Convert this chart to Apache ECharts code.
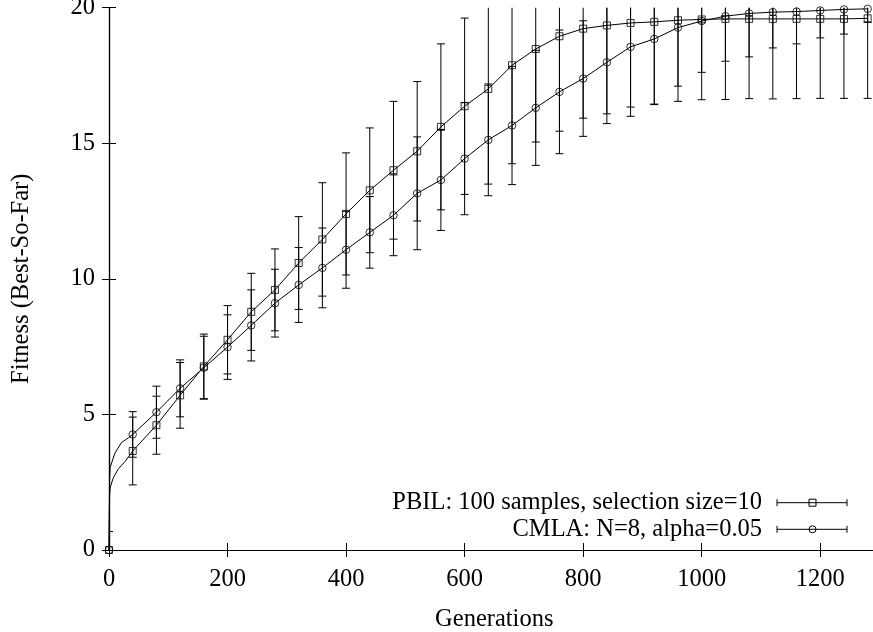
<!DOCTYPE html>
<html>
<head>
<meta charset="utf-8">
<script src="https://cdn.jsdelivr.net/npm/echarts@6/dist/echarts.min.js"></script>
<style>html,body{margin:0;padding:0;background:#fff}#c{width:873px;height:632px}</style>
</head>
<body>
<div id="c"></div>
<script>
// ---- data ----
const gens = [0,40,80,120,160,200,240,280,320,360,400,440,480,520,560,600,640,680,720,760,800,840,880,920,960,1000,1040,1080,1120,1160,1200,1240,1280];
const pbilMean = [0,3.65,4.6,5.7,6.77,7.75,8.78,9.59,10.58,11.45,12.39,13.26,14.0,14.7,15.6,16.36,17.0,17.87,18.47,18.94,19.22,19.34,19.43,19.47,19.53,19.56,19.58,19.58,19.58,19.58,19.58,19.58,19.6];
const pbilStd  = [0.68,1.25,1.07,1.21,1.19,1.26,1.42,1.51,1.71,2.09,2.25,2.3,2.54,2.57,3.06,3.25,3.51,3.63,3.43,3.5,3.3,3.26,3.1,3.05,2.99,2.96,2.97,2.94,2.95,2.94,2.93,2.93,2.95];
const cmlaMean = [0,4.26,5.08,5.96,6.72,7.48,8.28,9.1,9.77,10.4,11.07,11.71,12.34,13.15,13.64,14.43,15.12,15.65,16.3,16.89,17.38,17.98,18.55,18.84,19.26,19.5,19.68,19.78,19.83,19.85,19.89,19.93,19.95];
const cmlaStd  = [0,0.84,0.96,1.05,1.16,1.19,1.31,1.25,1.38,1.47,1.42,1.32,1.49,2.08,1.86,2.07,2.06,2.18,2.12,2.28,2.13,2.26,2.56,2.4,2.16,1.89,1.66,1.6,1.32,1.19,1.01,0.91,0.5];
// early part of the continuous curves (between generation 0 and 40)
const earlyGens = [1,2,7,16,27];
const pbilEarly = [2.0,2.3,2.65,3.0,3.26];
const cmlaEarlyGens = [1,2,10,21,33];
const cmlaEarly = [2.6,3.05,3.57,3.96,4.14];
const xTicks = [0,200,400,600,800,1000,1200];
const yTicks = [0,5,10,15,20];
const seriesNames = ['PBIL: 100 samples, selection size=10', 'CMLA: N=8, alpha=0.05'];

const X_MIN = 0, X_MAX = 1300, Y_MIN = 0, Y_MAX = 20;
const FONT = 'Liberation Serif';
const FS = 24.5;

function curve(eg, ev, mean) {
  const pts = gens.map((g, i) => [g, mean[i]]);
  eg.forEach((g, i) => pts.push([g, ev[i]]));
  pts.sort((a, b) => a[0] - b[0]);
  return pts;
}
function errData(mean, std) {
  return gens.map((g, i) => [g, mean[i], std[i]]).filter(d => d[2] > 0);
}
function errRender(params, api) {
  const x = api.value(0), m = api.value(1), s = api.value(2);
  const lo = Math.max(m - s, Y_MIN), hi = Math.min(m + s, Y_MAX);
  const pLo = api.coord([x, lo]), pHi = api.coord([x, hi]);
  const st = { stroke: '#000', lineWidth: 1 };
  const ch = [{ type: 'line', shape: { x1: pLo[0], y1: pLo[1], x2: pHi[0], y2: pHi[1] }, style: st }];
  const cw = 4;
  if (m - s >= Y_MIN && m - s > 0) ch.push({ type: 'line', shape: { x1: pLo[0] - cw, y1: pLo[1], x2: pLo[0] + cw, y2: pLo[1] }, style: st });
  if (m + s <= Y_MAX) ch.push({ type: 'line', shape: { x1: pHi[0] - cw, y1: pHi[1], x2: pHi[0] + cw, y2: pHi[1] }, style: st });
  return { type: 'group', children: ch };
}

const chart = echarts.init(document.getElementById('c'), null, { renderer: 'canvas' });
const gridDef = { left: 109, top: 7.5, width: 770.5, height: 542.5, containLabel: false, outerBoundsMode: 'none' };
const axisLine = { show: true, lineStyle: { color: '#000', width: 1.2 } };
const tick = { show: true, inside: true, length: 7, lineStyle: { color: '#000', width: 1 } };

// legend samples (graphic)
const legY = [502.7, 529.3];
const legGraphic = [];
legY.forEach((y, i) => {
  legGraphic.push({ type: 'text', right: 873 - 762, top: y - FS / 2, style: { text: seriesNames[i], font: FS + 'px "' + FONT + '"', fill: '#000', textAlign: 'right' } });
  legGraphic.push({ type: 'line', shape: { x1: 777, y1: y, x2: 847, y2: y }, style: { stroke: '#000', lineWidth: 1 } });
  legGraphic.push({ type: 'line', shape: { x1: 777, y1: y - 3.5, x2: 777, y2: y + 3.5 }, style: { stroke: '#000', lineWidth: 1 } });
  legGraphic.push({ type: 'line', shape: { x1: 847, y1: y - 3.5, x2: 847, y2: y + 3.5 }, style: { stroke: '#000', lineWidth: 1 } });
  if (i === 0) legGraphic.push({ type: 'rect', shape: { x: 809, y: y - 3.5, width: 7, height: 7 }, style: { stroke: '#000', fill: null, lineWidth: 1 } });
  else legGraphic.push({ type: 'circle', shape: { cx: 812.5, cy: y, r: 3.5 }, style: { stroke: '#000', fill: null, lineWidth: 1 } });
});

chart.setOption({
  animation: false,
  backgroundColor: '#fff',
  textStyle: { fontFamily: FONT },
  grid: gridDef,
  xAxis: [{
    type: 'value', min: X_MIN, max: X_MAX, interval: 200, position: 'bottom',
    axisLine: axisLine, axisTick: tick, splitLine: { show: false },
    axisLabel: { color: '#000', fontFamily: FONT, fontSize: FS, margin: 17, showMaxLabel: false,
      formatter: v => xTicks.indexOf(v) >= 0 ? String(v) : '' },
    name: 'Generations', nameLocation: 'middle', nameGap: 57,
    nameTextStyle: { color: '#000', fontFamily: FONT, fontSize: FS }
  }, {
    type: 'value', min: X_MIN, max: X_MAX, interval: 200, position: 'top',
    axisLine: axisLine, axisTick: tick, axisLabel: { show: false }, splitLine: { show: false }
  }],
  yAxis: [{
    type: 'value', min: Y_MIN, max: Y_MAX, interval: 5, position: 'left',
    axisLine: axisLine, axisTick: tick, splitLine: { show: false },
    axisLabel: { color: '#000', fontFamily: FONT, fontSize: FS, margin: 14,
      formatter: v => yTicks.indexOf(v) >= 0 ? String(v) : '' },
    name: 'Fitness (Best-So-Far)', nameLocation: 'middle', nameGap: 75, nameRotate: 90,
    nameTextStyle: { color: '#000', fontFamily: FONT, fontSize: FS }
  }, {
    type: 'value', min: Y_MIN, max: Y_MAX, interval: 5, position: 'right',
    axisLine: axisLine, axisTick: tick, axisLabel: { show: false }, splitLine: { show: false }
  }],
  graphic: legGraphic,
  series: [
    { type: 'custom', name: 'pbilErr', renderItem: errRender, data: errData(pbilMean, pbilStd), encode: { x: 0, y: 1 }, clip: true, z: 2 },
    { type: 'line', name: 'pbil', data: curve(earlyGens, pbilEarly, pbilMean), showSymbol: false, symbol: 'none',
      lineStyle: { color: '#000', width: 1 }, clip: true, z: 3 },
    { type: 'scatter', name: 'pbilPts', data: gens.map((g, i) => [g, pbilMean[i]]), symbol: 'rect', symbolSize: 7,
      itemStyle: { color: 'rgba(0,0,0,0)', borderColor: '#000', borderWidth: 1 }, z: 4 },
    { type: 'custom', name: 'cmlaErr', renderItem: errRender, data: errData(cmlaMean, cmlaStd), encode: { x: 0, y: 1 }, clip: true, z: 2 },
    { type: 'line', name: 'cmla', data: curve(cmlaEarlyGens, cmlaEarly, cmlaMean), showSymbol: false, symbol: 'none',
      lineStyle: { color: '#000', width: 1 }, clip: true, z: 3 },
    { type: 'scatter', name: 'cmlaPts', data: gens.map((g, i) => [g, cmlaMean[i]]), symbol: 'circle', symbolSize: 7.5,
      itemStyle: { color: 'rgba(0,0,0,0)', borderColor: '#000', borderWidth: 1 }, z: 4 }
  ]
});
</script>
</body>
</html>
